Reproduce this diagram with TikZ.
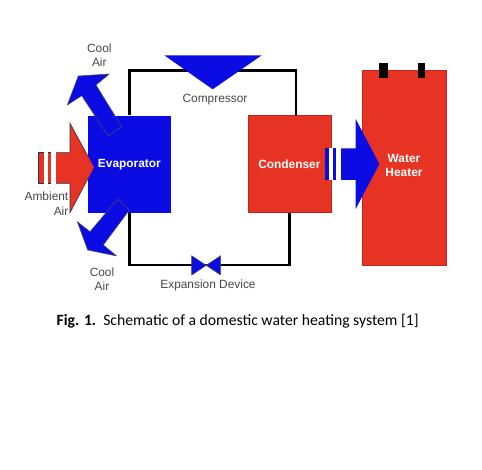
\documentclass[tikz,border=0pt]{standalone}
\usepackage{fontspec}
\setmainfont{Liberation Sans}
\newfontfamily\capfont{Carlito}
\usetikzlibrary{positioning,calc}
\definecolor{heat red}{HTML}{E73323}
\definecolor{cold blue}{HTML}{0B0BE3}
\colorlet{label grey}{black!72}
\tikzstyle{pipe} = [black,line width=2.4pt]
\tikzstyle{hot box} = [fill=heat red,draw=heat red!80!black,line width=.4pt,inner sep=0pt]
\tikzstyle{cold box} = [fill=cold blue,inner sep=0pt]
\tikzstyle{box label} = [white,inner sep=0pt,font=\fontsize{11.9}{13}\selectfont\bfseries]
\tikzstyle{air label} = [label grey,inner sep=0pt,font=\fontsize{11.9}{13}\selectfont]
\tikzstyle{cold shape} = [fill=cold blue,draw=black!70,line width=.5pt,line join=round]
\tikzstyle{air edge} = [black!80,line width=.6pt]

\begin{document}
\begin{tikzpicture}[x=1pt,y=-1pt]
        \useasboundingbox (0,0) rectangle (482,470);

        \node[cold box,minimum width=83.4pt,minimum height=97pt] (evaporator) at (129.4,164.2) {};
        \node[hot box,minimum width=83.4pt,minimum height=97pt] (condenser) at (289.4,164.2) {};
        \node[hot box,minimum width=84pt,minimum height=195pt] (heater) at (404,167.5) {};

        \coordinate (compressor) at (213,70.7);
        \coordinate (valve) at (206,265);
        \coordinate (riser) at (296,115.7);

        \draw[pipe] (evaporator.north) |- (compressor);
        \draw[pipe] (riser) |- (compressor);
        \draw[pipe] (evaporator.south) |- (valve);
        \draw[pipe] (condenser.south) |- (valve);

        % tabs on the heater
        \fill[black] (379.3,62.7) rectangle (387.5,78);
        \fill[black] (417.7,62.7) rectangle (425.3,78);

        % compressor and valve
        \fill[cold blue] (164.3,55.3) -- (261.7,55.3) -- (212.7,89.3) -- cycle;
        \draw[cold shape] (191.7,255.7) -- (220.7,275) -- (220.7,255.7) -- (191.7,275) -- cycle;

        % air leaving the evaporator
        \draw[cold shape] (108.3,136) -- (121.7,126.7) -- (96,85) -- (109.3,74) -- (78.3,76)
            -- (67.3,105) -- (81.7,95.7) -- cycle;
        \draw[cold shape] (117.7,199) -- (129.3,210) -- (103.3,245) -- (116.7,256) -- (87.7,250)
            -- (77.3,221.7) -- (90,231.7) -- cycle;

        % air coming in
        \fill[heat red] (56,152.7) -- (70,152.7) -- (70,123.3) -- (94,167.3) -- (70,212.7) -- (70,183.3) -- (56,183.3) -- cycle;
        \draw[air edge] (56,152.7) -- (70,152.7) -- (70,123.3) -- (87.7,155.7);
        \draw[air edge] (56,183.3) -- (70,183.3) -- (70,212.7) -- (87.7,179);
        \fill[heat red] (38.3,152.7) rectangle (44.3,183.3);
        \draw[air edge] (44.3,152.7) -- (38.3,152.7) -- (38.3,183.3) -- (44.3,183.3);
        \fill[heat red] (47.7,152.7) rectangle (51,183.3);
        \draw[air edge] (47.7,152.7) -- (51,152.7);
        \draw[air edge] (47.7,183.3) -- (51,183.3);

        % heat going to the tank
        \fill[white] (329.3,148.3) rectangle (341,180);
        \fill[cold blue] (325,148.3) rectangle (329.3,180);
        \fill[cold blue] (333,148.3) rectangle (336,180);
        \fill[cold blue] (341,148.3) -- (355.7,148.3) -- (355.7,119) -- (379.3,164) -- (355.7,209) -- (355.7,180) -- (341,180) -- cycle;

        \node[box label] (evaporator text) at (evaporator) {Evaporator};
        \node[box label] (condenser text) at (condenser) {Condenser};
        \node[box label] (water text) at (404,158) {Water};
        \node[box label] (heater text) at (404,172.7) {Heater};

        \node[air label] (cool top) at (99.3,48.3) {Cool};
        \node[air label] (air top) at (99.3,62) {Air};
        \node[air label] (cool bottom) at (102,272) {Cool};
        \node[air label] (air bottom) at (102,286) {Air};
        \node[air label,anchor=east] (ambient) at (68.5,196.7) {Ambient};
        \node[air label,anchor=east] (ambient air) at (68.5,211) {Air};
        \node[air label] (compressor text) at (215,100) {Compressor};
        \node[air label] (valve text) at (208,285.7) {Expansion Device};

        \node[inner sep=0pt,font=\capfont\fontsize{15.7}{18}\selectfont] (caption) at (237.6,321) {\textbf{Fig. 1.}\ \ Schematic of a domestic water heating system [1]};
    \end{tikzpicture}
\end{document}
